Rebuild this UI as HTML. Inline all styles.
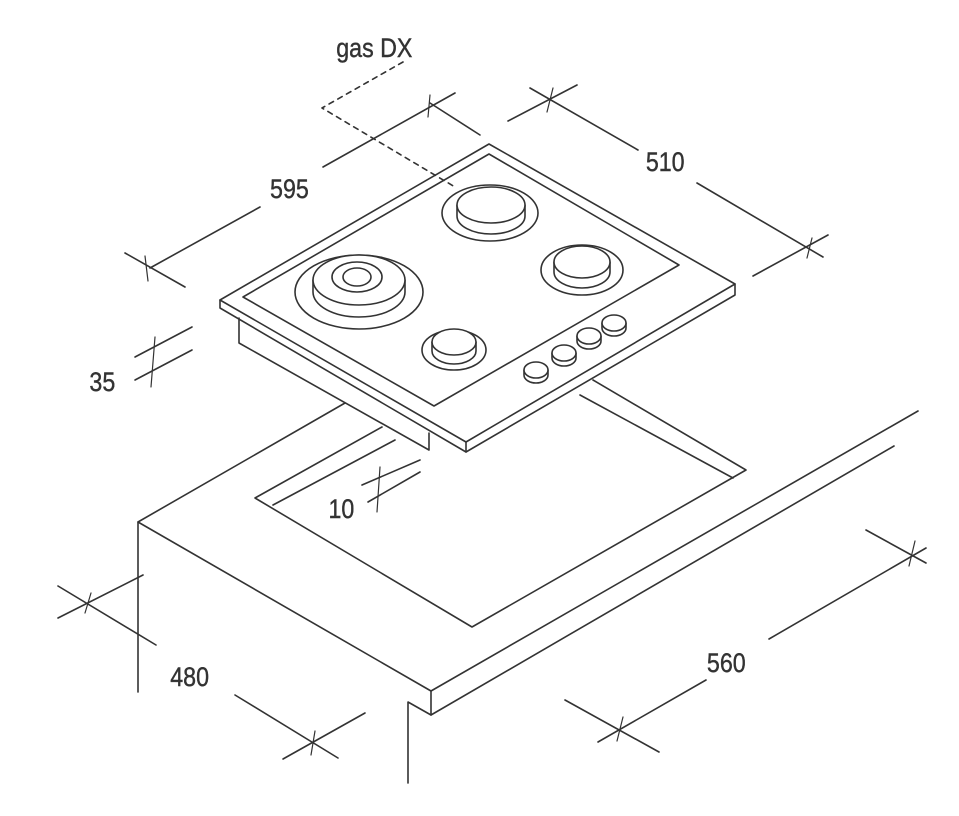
<!DOCTYPE html>
<html><head><meta charset="utf-8"><style>
html,body{margin:0;padding:0;background:#fff;}
svg{display:block;}
text{font-family:"Liberation Sans",sans-serif;fill:#333;font-size:27px;stroke:#333;stroke-width:0.4;}
</style></head><body>
<svg width="959" height="816" viewBox="0 0 959 816" xmlns="http://www.w3.org/2000/svg">
<g fill="none" stroke="#333" stroke-width="1.6" stroke-linecap="round" stroke-linejoin="round">
<polyline points="345,403 138,522 431,691 918,411"/>
<line x1="138" y1="522" x2="138" y2="692"/>
<polyline points="431,691 431,715 894,446"/>
<polyline points="408,783 408,702 431,715"/>
<polyline points="382,427 255,498 472,627 746,470 593,380"/>
<polyline points="395,440 273,505"/>
<line x1="580" y1="395" x2="733" y2="478"/>
<polyline points="239,318 239,343 429,450 429,433"/>
<polygon points="220,300 489,144 735,284 466,442" fill="#fff"/>
<polyline points="220,300 220,308 466,452 735,295 735,284"/>
<line x1="466" y1="442" x2="466" y2="452"/>
<polygon points="243,297 489,154 679,265 434,406"/>
<ellipse cx="359" cy="292" rx="64" ry="37"/>
<path d="M313,280 L313,292 A46,25 0 0 0 405,292 L405,280"/>
<ellipse cx="359" cy="280" rx="46" ry="25" fill="#fff"/>
<ellipse cx="357" cy="277" rx="25" ry="15"/>
<ellipse cx="357" cy="277" rx="14" ry="9"/>
<ellipse cx="490" cy="213" rx="48" ry="28"/>
<path d="M457,205 L457,216 A34,18 0 0 0 525,216 L525,205"/>
<ellipse cx="491" cy="205" rx="34" ry="18" fill="#fff"/>
<ellipse cx="582" cy="270" rx="41" ry="25"/>
<path d="M554,262 L554,272 A28,16 0 0 0 610,272 L610,262"/>
<ellipse cx="582" cy="262" rx="28" ry="16" fill="#fff"/>
<ellipse cx="454" cy="350" rx="32" ry="20"/>
<path d="M432,342 L432,351 A22,13 0 0 0 476,351 L476,342"/>
<ellipse cx="454" cy="342" rx="22" ry="13" fill="#fff"/>
<g>
<path d="M524,370 L524,375 A12,8 0 0 0 548,375 L548,370"/><ellipse cx="536" cy="370" rx="12" ry="8" fill="#fff"/>
<path d="M552,353 L552,358 A12,8 0 0 0 576,358 L576,353"/><ellipse cx="564" cy="353" rx="12" ry="8" fill="#fff"/>
<path d="M577,336 L577,341 A12,8 0 0 0 601,341 L601,336"/><ellipse cx="589" cy="336" rx="12" ry="8" fill="#fff"/>
<path d="M602,323 L602,328 A12,8 0 0 0 626,328 L626,323"/><ellipse cx="614" cy="323" rx="12" ry="8" fill="#fff"/>
</g>
<polyline points="403,62 322,108 455,187" stroke-dasharray="5,5"/>
<line x1="150" y1="268" x2="260" y2="207"/>
<line x1="323" y1="167" x2="455" y2="93"/>
<line x1="125" y1="253" x2="185" y2="287"/>
<line x1="430" y1="103" x2="480" y2="135"/>
<line x1="145" y1="256" x2="148" y2="281" stroke-width="1.2"/>
<line x1="430" y1="95" x2="428" y2="117" stroke-width="1.2"/>
<line x1="530" y1="88" x2="638" y2="150"/>
<line x1="697" y1="183" x2="823" y2="257"/>
<line x1="508" y1="121" x2="577" y2="85"/>
<line x1="753" y1="276" x2="828" y2="235"/>
<line x1="553" y1="88" x2="547" y2="112" stroke-width="1.2"/>
<line x1="812" y1="238" x2="807" y2="258" stroke-width="1.2"/>
<line x1="135" y1="357" x2="192" y2="327"/>
<line x1="135" y1="380" x2="192" y2="350"/>
<line x1="155" y1="337" x2="151" y2="387" stroke-width="1.2"/>
<line x1="362" y1="485" x2="420" y2="460"/>
<line x1="368" y1="502" x2="420" y2="472"/>
<line x1="380" y1="467" x2="377" y2="512" stroke-width="1.2"/>
<line x1="58" y1="618" x2="143" y2="575"/>
<line x1="58" y1="586" x2="156" y2="645"/>
<line x1="91" y1="593" x2="85" y2="613" stroke-width="1.2"/>
<line x1="235" y1="695" x2="338" y2="758"/>
<line x1="283" y1="759" x2="365" y2="713"/>
<line x1="315" y1="731" x2="311" y2="755" stroke-width="1.2"/>
<line x1="769" y1="639" x2="926" y2="548"/>
<line x1="866" y1="530" x2="926" y2="563"/>
<line x1="915" y1="541" x2="909" y2="566" stroke-width="1.2"/>
<line x1="598" y1="742" x2="706" y2="680"/>
<line x1="565" y1="700" x2="659" y2="752"/>
<line x1="623" y1="717" x2="617" y2="741" stroke-width="1.2"/>
</g>
<g transform="scale(0.86,1)">
<text x="391" y="57">gas DX</text>
<text x="314" y="198">595</text>
<text x="751" y="171">510</text>
<text x="104" y="391">35</text>
<text x="382" y="518">10</text>
<text x="198" y="686">480</text>
<text x="822" y="672">560</text>
</g>
</svg>
</body></html>
